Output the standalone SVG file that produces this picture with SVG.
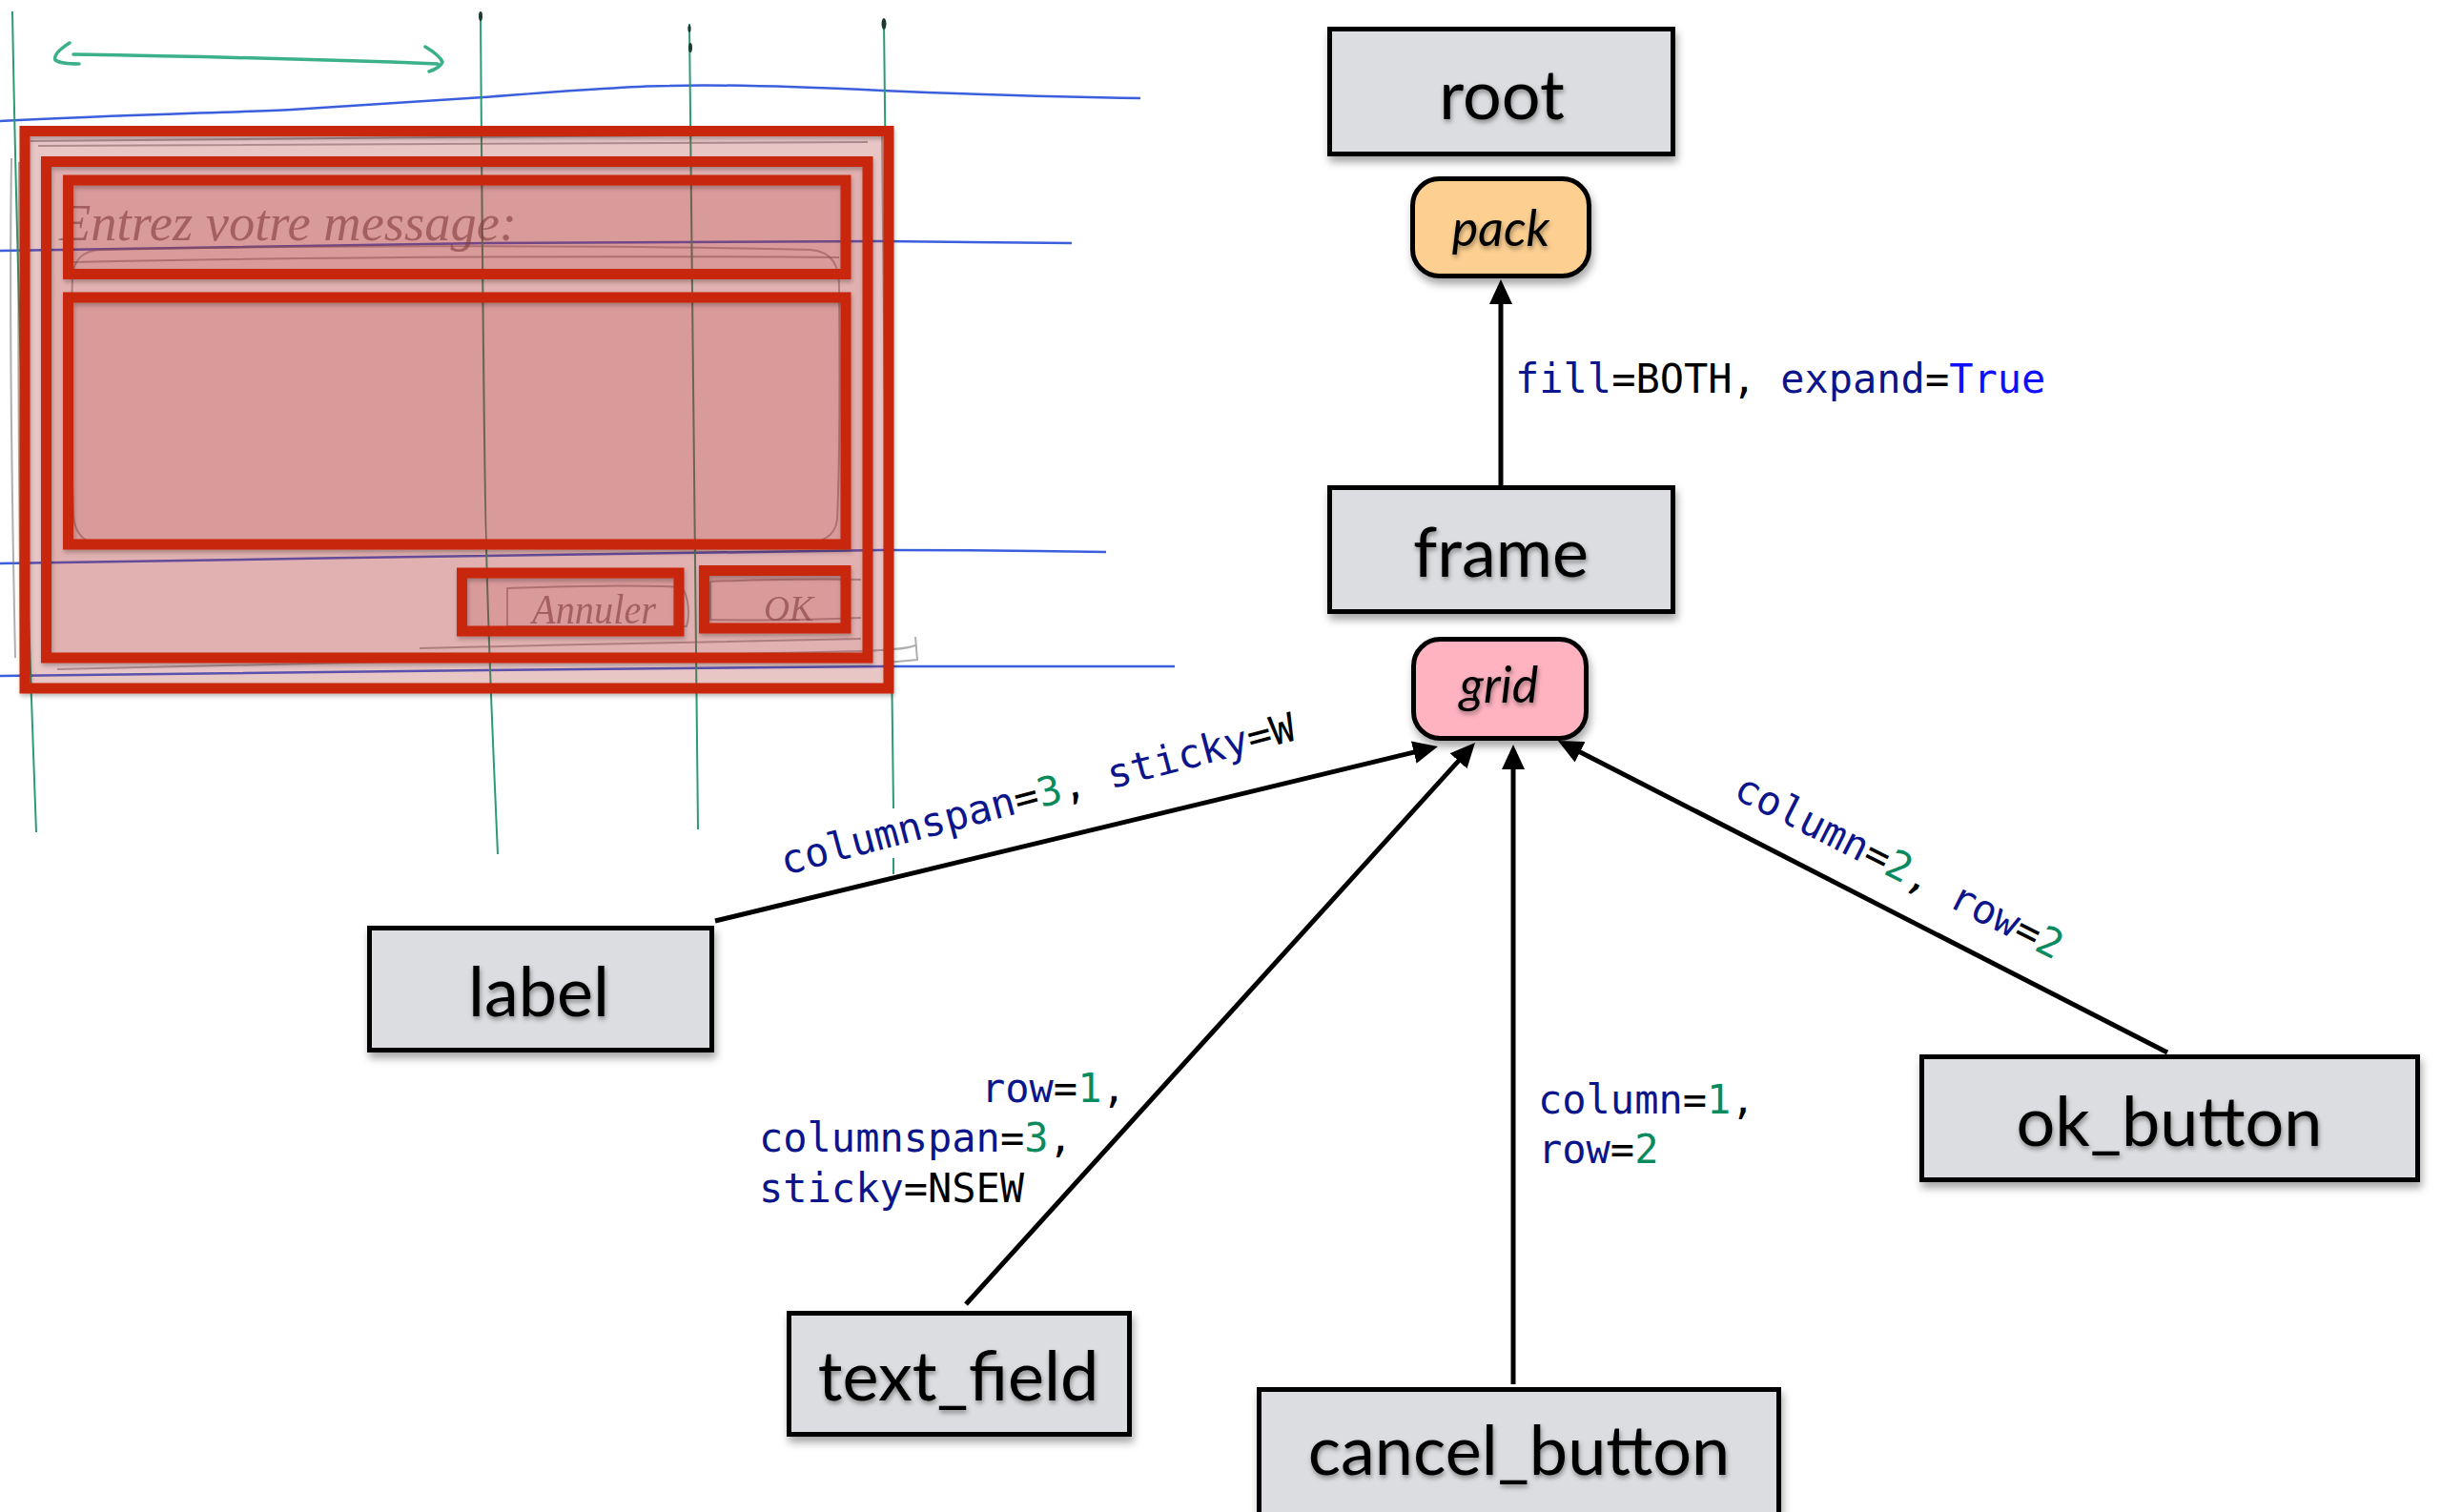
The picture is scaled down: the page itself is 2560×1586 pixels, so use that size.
<svg xmlns="http://www.w3.org/2000/svg" width="2560" height="1586" viewBox="0 0 2560 1586">
  <defs>
    <style>
      .box { fill: #dcdde0; stroke: #000; stroke-width: 5; }
      .pack { fill: #fdd091; stroke: #000; stroke-width: 5; }
      .grid { fill: #ffb3c0; stroke: #000; stroke-width: 5; }
      .name { font-family: Lato, "Open Sans", "DejaVu Sans", sans-serif; font-size: 72px; fill: #000; text-anchor: middle; }
      .mgr { font-family: Lato, "Open Sans", "DejaVu Sans", sans-serif; font-style: italic; font-size: 52px; fill: #000; text-anchor: middle; }
      .code { font-family: "DejaVu Sans Mono", "Liberation Mono", monospace; font-size: 42px; fill: #000; }
      .kw { fill: #0c168a; }
      .num { fill: #0b8a5e; }
      .const { fill: #1010ff; }
      .edge { stroke: #000; stroke-width: 5; fill: none; }
      .blue { stroke: #3b5fdc; stroke-width: 2.5; fill: none; }
      .green { stroke: #2b9c70; stroke-width: 2; fill: none; }
      .pencil { stroke: #6e6e6e; stroke-width: 2; fill: none; opacity: 0.55; }
      .hand { font-family: "Liberation Serif", "DejaVu Serif", serif; font-style: italic; fill: #5c4848; opacity: 0.6; }
      .zone { stroke: #c8260c; stroke-width: 11; fill: none; }
      .tint { fill: #af2d2d; stroke: none; }
    </style>
    <filter id="shadow" x="-10%" y="-10%" width="130%" height="140%">
      <feDropShadow dx="2" dy="6" stdDeviation="4" flood-color="#000" flood-opacity="0.35"/>
    </filter>
    <filter id="tshadow" x="-10%" y="-20%" width="130%" height="150%">
      <feDropShadow dx="1" dy="3" stdDeviation="2.5" flood-color="#000" flood-opacity="0.4"/>
    </filter>
    <filter id="zshadow" x="-5%" y="-5%" width="110%" height="110%">
      <feDropShadow dx="1" dy="3" stdDeviation="2" flood-color="#000" flood-opacity="0.25"/>
    </filter>
    <marker id="arrow" viewBox="0 0 26 24" markerWidth="26" markerHeight="24" refX="20" refY="12" orient="auto" markerUnits="userSpaceOnUse">
      <path d="M0,0 L26,12 L0,24 z" fill="#000"/>
    </marker>
  </defs>

  <rect width="2560" height="1586" fill="#fff"/>

  <!-- hand sketch of the dialog window, with its layout grid -->
  <g id="sketch">
    <g id="sketch-rows">
      <path class="blue" d="M0,127 C120,121 240,118 306,115 C380,110 450,106 507,102 C600,95 660,90 702,90 C760,88 860,92 925,95 C1020,99 1120,102 1196,103"/>
      <path class="blue" d="M0,263 C200,259 400,256 510,255 C700,253 850,253 925,253 C1000,254 1070,255 1124,255"/>
      <path class="blue" d="M0,591 C300,586 700,580 925,577 C1020,577 1100,578 1160,579"/>
      <path class="blue" d="M0,709 C200,707 400,704 510,703 C700,701 850,699 925,699 C1050,699 1150,699 1232,699"/>
    </g>
    <g id="sketch-columns">
      <path class="green" d="M13,12 C18,300 28,600 38,873"/>
      <path class="green" d="M504,15 C506,300 509,574 510,574 C513,700 518,800 522,896"/>
      <path class="green" d="M723,25 C726,300 729,600 732,870"/>
      <path class="green" d="M927,23 C930,300 934,600 937,848"/>
      <path class="green" d="M937,900 L937,917"/>
      <ellipse cx="504" cy="17" rx="2" ry="5" fill="#1e3a30"/>
      <ellipse cx="723" cy="30" rx="1.6" ry="4" fill="#1e3a30"/>
      <ellipse cx="724" cy="50" rx="2" ry="5" fill="#1e3a30"/>
      <ellipse cx="927" cy="25" rx="2.5" ry="6" fill="#1e3a30"/>
      <path d="M77,57 C200,59 330,62 459,67 M73,45 C62,52 56,58 58,63 C62,66 72,67 83,67 M446,49 C456,55 462,60 464,65 C462,70 456,73 450,75" stroke="#3bb08b" stroke-width="3.5" fill="none" stroke-linecap="round"/>
    </g>
    <g id="sketch-window">
      <path class="pencil" d="M32,148 C200,146 500,144 700,142 C800,141 880,140 925,140 M40,153 C300,151 600,150 910,149"/>
      <path class="pencil" d="M12,166 C10,300 12,500 16,690 M20,170 C18,350 20,520 22,692"/>
      <path class="pencil" d="M925,142 C927,300 929,500 930,686 M932,150 C934,300 935,500 936,680"/>
      <path class="pencil" d="M60,702 C300,696 600,688 903,683 C930,682 950,681 960,677 M440,680 C600,676 800,672 903,670"/>
      <path class="pencil" d="M960,668 L962,692 L930,695"/>
      <path class="pencil" d="M105,262 C300,258 600,256 850,262 C874,264 880,280 880,300 C881,400 880,500 878,545 C876,562 862,570 840,570 C600,574 300,576 110,572 C88,571 78,560 77,540 C74,450 74,350 76,290 C77,272 88,263 105,262 Z"/>
      <path class="pencil" d="M77,275 C300,270 600,268 880,270"/>
      <path class="pencil" d="M532,617 C600,614 680,614 715,616 C722,625 724,645 720,657 C650,657 580,657 532,657 Z"/>
      <path class="pencil" d="M745,610 C800,608 860,607 903,608 M745,610 L745,650 C800,651 860,650 903,648"/>
      <text class="hand" x="62" y="252" font-size="55" textLength="480" lengthAdjust="spacingAndGlyphs">Entrez votre message:</text>
      <text class="hand" x="558" y="654" font-size="44" textLength="130" lengthAdjust="spacingAndGlyphs">Annuler</text>
      <text class="hand" x="801" y="651" font-size="38" textLength="52" lengthAdjust="spacingAndGlyphs">OK</text>
    </g>
    <!-- translucent tint of each layout zone, nested zones add up -->
    <g id="zone-tints">
      <rect class="tint" x="26" y="137.5" width="906" height="584.5" opacity="0.27"/>
      <rect class="tint" x="48.5" y="169.5" width="861.5" height="520.5" opacity="0.14"/>
      <rect class="tint" x="71.5" y="189" width="815.5" height="98.5" opacity="0.17"/>
      <rect class="tint" x="71.5" y="312" width="815.5" height="259" opacity="0.17"/>
      <rect class="tint" x="484.5" y="601" width="227.5" height="61" opacity="0.17"/>
      <rect class="tint" x="738.5" y="598.5" width="148.5" height="60.5" opacity="0.17"/>
    </g>
    <g id="layout-zones" filter="url(#zshadow)">
      <rect class="zone" x="26" y="137.5" width="906" height="584.5"/>
      <rect class="zone" x="48.5" y="169.5" width="861.5" height="520.5"/>
      <rect class="zone" x="71.5" y="189" width="815.5" height="98.5"/>
      <rect class="zone" x="71.5" y="312" width="815.5" height="259"/>
      <rect class="zone" x="484.5" y="601" width="227.5" height="61"/>
      <rect class="zone" x="738.5" y="598.5" width="148.5" height="60.5"/>
    </g>
  </g>

  <!-- connectors: child widget -> geometry manager of its parent -->
  <g id="connectors">
    <path class="edge" d="M1574,510 L1574,299" marker-end="url(#arrow)"/>
    <path class="edge" d="M750,966 L1502.2,784.4" marker-end="url(#arrow)"/>
    <path class="edge" d="M1013,1368 L1543,783.4" marker-end="url(#arrow)"/>
    <path class="edge" d="M1587,1452 L1587,787" marker-end="url(#arrow)"/>
    <path class="edge" d="M2273,1104 L1639.3,779.7" marker-end="url(#arrow)"/>

    <text class="code" x="1589" y="412"><tspan class="kw">fill</tspan>=BOTH, <tspan class="kw">expand</tspan>=<tspan class="const">True</tspan></text>
    <text class="code" transform="translate(823,918) rotate(-14.8)"><tspan class="kw">columnspan</tspan>=<tspan class="num">3</tspan>, <tspan class="kw">sticky</tspan>=W</text>
    <text class="code" x="1029" y="1156"><tspan class="kw">row</tspan>=<tspan class="num">1</tspan>,</text>
    <text class="code" x="796" y="1208"><tspan class="kw">columnspan</tspan>=<tspan class="num">3</tspan>,</text>
    <text class="code" x="796" y="1261"><tspan class="kw">sticky</tspan>=NSEW</text>
    <text class="code" x="1613" y="1168"><tspan class="kw">column</tspan>=<tspan class="num">1</tspan>,</text>
    <text class="code" x="1613" y="1220"><tspan class="kw">row</tspan>=<tspan class="num">2</tspan></text>
    <text class="code" transform="translate(1816,836) rotate(26.8)"><tspan class="kw">column</tspan>=<tspan class="num">2</tspan>, <tspan class="kw">row</tspan>=<tspan class="num">2</tspan></text>
  </g>

  <g id="root">
    <rect class="box" x="1394.5" y="30.5" width="360" height="131" filter="url(#shadow)"/>
    <text class="name" x="1575" y="125" filter="url(#tshadow)">root</text>
  </g>
  <g id="pack">
    <rect class="pack" x="1481.5" y="187.5" width="185" height="102" rx="28" filter="url(#shadow)"/>
    <text class="mgr" x="1574" y="258" filter="url(#tshadow)">pack</text>
  </g>
  <g id="frame">
    <rect class="box" x="1394.5" y="511.5" width="360" height="130" filter="url(#shadow)"/>
    <text class="name" x="1574" y="605" filter="url(#tshadow)">frame</text>
  </g>
  <g id="grid">
    <rect class="grid" x="1482.5" y="670.5" width="181" height="104" rx="28" filter="url(#shadow)"/>
    <text class="mgr" x="1572" y="737" filter="url(#tshadow)">grid</text>
  </g>
  <g id="label">
    <rect class="box" x="387.5" y="973.5" width="359" height="128" filter="url(#shadow)"/>
    <text class="name" x="565" y="1066" filter="url(#tshadow)">label</text>
  </g>
  <g id="text_field">
    <rect class="box" x="827.5" y="1377.5" width="357" height="127" filter="url(#shadow)"/>
    <text class="name" x="1005" y="1469" filter="url(#tshadow)">text_field</text>
  </g>
  <g id="cancel_button">
    <rect class="box" x="1320.5" y="1457.5" width="545" height="140" filter="url(#shadow)"/>
    <text class="name" x="1593" y="1547" filter="url(#tshadow)">cancel_button</text>
  </g>
  <g id="ok_button">
    <rect class="box" x="2015.5" y="1108.5" width="520" height="129" filter="url(#shadow)"/>
    <text class="name" x="2275" y="1202" filter="url(#tshadow)">ok_button</text>
  </g>
</svg>
